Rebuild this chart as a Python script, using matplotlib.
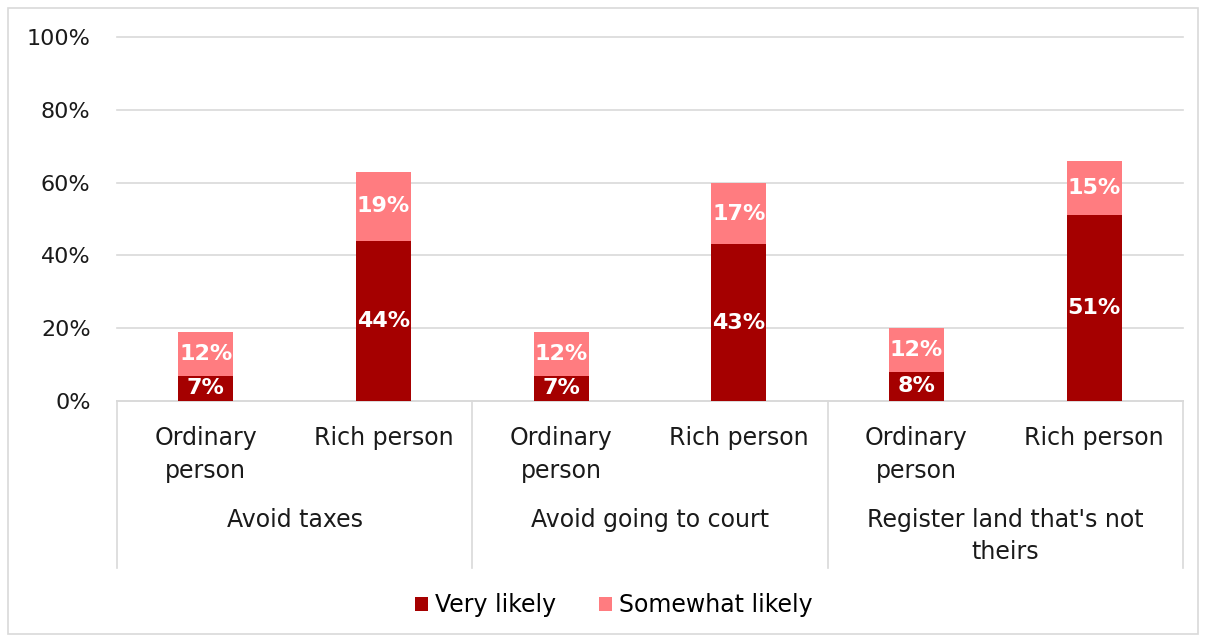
import matplotlib.pyplot as plt
import matplotlib.patches as mpatches
import numpy as np

plt.rcParams['font.family'] = ['DejaVu Sans']

# -------------------------
# Data
# -------------------------
groups = ['Avoid taxes', 'Avoid going to court', "Register land that's not\ntheirs"]
persons = ['Ordinary\nperson', 'Rich person'] * 3
very_likely = [7, 44, 7, 43, 8, 51]
somewhat_likely = [12, 19, 12, 17, 12, 15]

dark_red = '#A50000'
light_red = '#FF7C80'
grid_col = '#D9D9D9'
txt_col = '#1A1A1A'

fig = plt.figure(figsize=(12.06, 6.42), dpi=100)
ax = fig.add_axes([117 / 1206, 1 - 401 / 642, (1183 - 117) / 1206, 364 / 642])

x = np.arange(len(persons))
w = 0.31
b1 = ax.bar(x, very_likely, width=w, color=dark_red, label='Very likely', zorder=3)
b2 = ax.bar(x, somewhat_likely, width=w, bottom=very_likely, color=light_red,
            label='Somewhat likely', zorder=3)

# data labels
for i in range(len(x)):
    ax.text(x[i], very_likely[i] / 2, f'{very_likely[i]}%', ha='center', va='center',
            color='white', fontsize=16, fontweight='bold', zorder=4)
    ax.text(x[i], very_likely[i] + somewhat_likely[i] / 2, f'{somewhat_likely[i]}%',
            ha='center', va='center', color='white', fontsize=16, fontweight='bold', zorder=4)

ax.set_xlim(-0.5, len(x) - 0.5)
ax.set_ylim(0, 100)
ax.set_yticks(range(0, 101, 20))
ax.set_yticklabels([f'{v}%' for v in range(0, 101, 20)], fontsize=16, color=txt_col)
ax.grid(axis='y', color=grid_col, linewidth=1.2, zorder=0)
for gl in ax.get_ygridlines():
    gl.set_clip_on(False)
ax.tick_params(axis='y', length=0, pad=19)
ax.set_xticks(x)
ax.set_xticklabels(persons, fontsize=17, color=txt_col, linespacing=1.45, va='top')
ax.tick_params(axis='x', length=0, pad=18)
for s in ['top', 'right', 'left']:
    ax.spines[s].set_visible(False)
ax.spines['bottom'].set_color(grid_col)
ax.spines['bottom'].set_linewidth(1.2)

# group dividers and labels
trans = ax.get_xaxis_transform()
for d in [-0.5, 1.5, 3.5, 5.5]:
    ax.plot([d, d], [0, -0.459], transform=trans, color=grid_col, lw=1.2, clip_on=False)
for g, name in enumerate(groups):
    ax.text(2 * g + 0.5, -0.293, name, transform=trans, ha='center', va='top',
            fontsize=17, color=txt_col, linespacing=1.45)

# legend
fig.legend(handles=[b1, b2], loc='center', bbox_to_anchor=(614 / 1206, 1 - 605 / 642),
           ncol=2, frameon=False, fontsize=17, handlelength=0.55, handleheight=0.55,
           handletextpad=0.3, columnspacing=1.8)

# outer frame
fig.patches.append(mpatches.Rectangle((8 / 1206, 8 / 642), 1190 / 1206, 626 / 642,
                                      transform=fig.transFigure, fill=False,
                                      edgecolor=grid_col, linewidth=1.2))

plt.savefig('out.png', dpi=100)
plt.close()
